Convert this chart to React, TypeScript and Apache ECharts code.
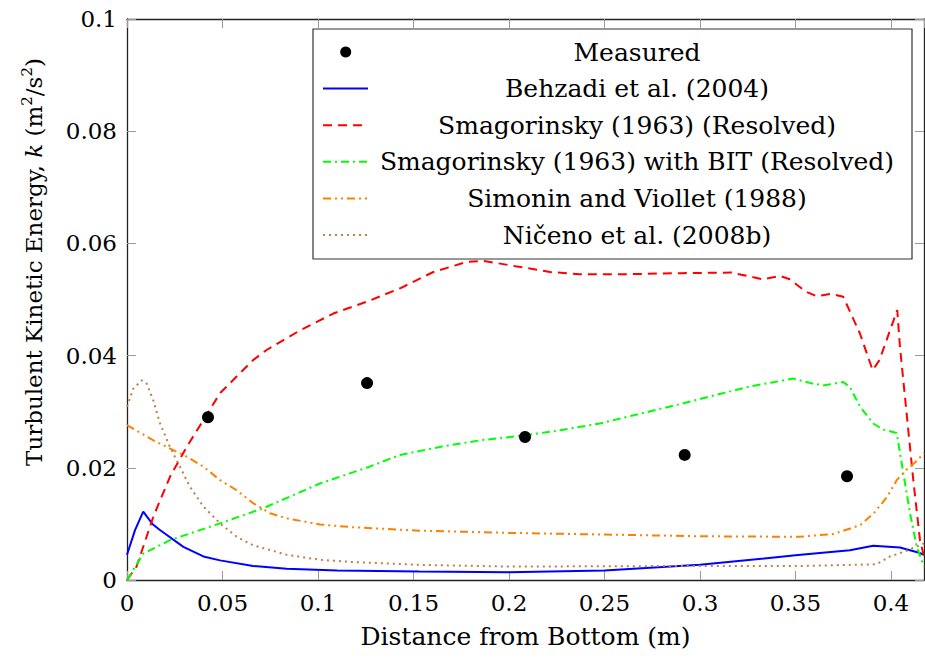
import React, { useEffect, useRef } from "react";
import * as echarts from "echarts";

const measured: number[][] = [
  [0.0424, 0.029], [0.1257, 0.0351], [0.2084, 0.0255], [0.292, 0.0223], [0.377, 0.0185],
];

const behzadi: number[][] = [
  [0, 0.0045], [0.0042, 0.0089], [0.0085, 0.0122], [0.0133, 0.01], [0.0169, 0.009],
  [0.0295, 0.0059], [0.04, 0.0042], [0.0487, 0.0035], [0.066, 0.0025], [0.0836, 0.002],
  [0.11, 0.0017], [0.153, 0.0015], [0.2, 0.0014], [0.25, 0.0017], [0.3, 0.0027],
  [0.35, 0.0044], [0.3785, 0.0053], [0.3907, 0.0061], [0.4047, 0.0058], [0.4143, 0.0049],
  [0.4173, 0.0045],
];

const smagorinsky: number[][] = [
  [0, 0], [0.005, 0.0024], [0.0138, 0.0113], [0.0225, 0.0184], [0.0312, 0.0237],
  [0.04, 0.0285], [0.0487, 0.0333], [0.066, 0.0392], [0.0731, 0.041], [0.0906, 0.0445],
  [0.108, 0.0475], [0.1255, 0.0496], [0.143, 0.052], [0.1604, 0.0549], [0.1779, 0.0567],
  [0.1865, 0.0569], [0.204, 0.0559], [0.2215, 0.0549], [0.237, 0.0545], [0.26, 0.0545],
  [0.29, 0.0547], [0.3165, 0.0548], [0.326, 0.0541], [0.333, 0.0536], [0.342, 0.0542],
  [0.347, 0.0536], [0.3555, 0.0514], [0.361, 0.0506], [0.3685, 0.051], [0.375, 0.0505],
  [0.3838, 0.0439], [0.3904, 0.0374], [0.394, 0.0392], [0.3995, 0.0445], [0.4033, 0.0481],
  [0.4047, 0.0416], [0.4082, 0.0297], [0.4117, 0.0178], [0.4152, 0.0071], [0.4173, 0.0042],
];

const smagorinskyBIT: number[][] = [
  [0, 0], [0.0085, 0.0047], [0.0225, 0.0071], [0.0487, 0.0101], [0.0714, 0.0128],
  [0.101, 0.0172], [0.127, 0.0202], [0.143, 0.0223], [0.165, 0.0238], [0.185, 0.0249],
  [0.2084, 0.0258], [0.227, 0.0267], [0.2476, 0.0279], [0.2913, 0.0315], [0.326, 0.0345],
  [0.349, 0.0359], [0.359, 0.035], [0.365, 0.0347], [0.375, 0.0353], [0.3785, 0.0344],
  [0.3838, 0.0309], [0.3907, 0.0279], [0.396, 0.0268], [0.403, 0.0262], [0.4065, 0.019],
  [0.41, 0.0119], [0.4135, 0.0059], [0.4173, 0.0024],
];

const simonin: number[][] = [
  [0, 0.0276], [0.0138, 0.0249], [0.0312, 0.022], [0.04, 0.0202], [0.0487, 0.0178],
  [0.0574, 0.016], [0.066, 0.0137], [0.0749, 0.0119], [0.0836, 0.011], [0.101, 0.0099],
  [0.1185, 0.0094], [0.136, 0.0091], [0.153, 0.0088], [0.2, 0.0084], [0.25, 0.0081],
  [0.3, 0.0078], [0.352, 0.0077], [0.37, 0.0082], [0.384, 0.0098], [0.391, 0.0119],
  [0.398, 0.0148], [0.403, 0.0178], [0.408, 0.0196], [0.413, 0.0211], [0.4173, 0.0226],
];

const niceno: number[][] = [
  [0, 0.0309], [0.0033, 0.0341], [0.0077, 0.0356], [0.0103, 0.035], [0.0138, 0.032],
  [0.0173, 0.0279], [0.0225, 0.0237], [0.0277, 0.0202], [0.033, 0.0166], [0.04, 0.0131],
  [0.0487, 0.0101], [0.0574, 0.0077], [0.066, 0.0062], [0.0836, 0.0045], [0.101, 0.0036],
  [0.1185, 0.0032], [0.153, 0.0027], [0.2, 0.0024], [0.3, 0.0025], [0.352, 0.0025],
  [0.3925, 0.0028], [0.3995, 0.0042], [0.4065, 0.005], [0.4173, 0.0065],
];

const legendNames = [
  "Measured",
  "Behzadi et al. (2004)",
  "Smagorinsky (1963) (Resolved)",
  "Smagorinsky (1963) with BIT (Resolved)",
  "Simonin and Viollet (1988)",
  "Ničeno et al. (2008b)",
];

const X_MAX = 0.4173;
const FONT = "DejaVu Serif";

export default function App() {
  const ref = useRef<HTMLDivElement>(null);
  useEffect(() => {
    document.body.style.margin = "0";
    const chart = echarts.init(ref.current!, null, { renderer: "svg" });

    const lineStyles = [
      null,
      { color: "#0000ff", type: "solid" as any },
      { color: "#ff0000", type: [9, 6] },
      { color: "#00ff00", type: [8, 4, 2, 4] },
      { color: "#ff8000", type: [8, 4, 2, 4, 2, 4] },
      { color: "#bf8040", type: [2, 4] },
    ];
    const datasets = [measured, behzadi, smagorinsky, smagorinskyBIT, simonin, niceno];

    const series: any[] = [];
    for (let i = 1; i < datasets.length; i++) {
      series.push({
        name: legendNames[i],
        type: "line",
        data: datasets[i],
        showSymbol: false,
        symbol: "none",
        lineStyle: { color: lineStyles[i]!.color, width: 2, type: lineStyles[i]!.type },
        z: 2,
      });
    }
    series.push({
      name: legendNames[0],
      type: "scatter",
      data: measured,
      symbol: "circle",
      symbolSize: 12,
      itemStyle: { color: "#000", opacity: 1 },
      z: 3,
    });

    const legendX = 313, legendY = 29, legendW = 599, legendH = 230;
    const rowY0 = 52, rowStep = 36.6;
    const graphics: any[] = [
      {
        type: "rect",
        shape: { x: legendX, y: legendY, width: legendW, height: legendH },
        style: { fill: "#fff", stroke: "#333", lineWidth: 1.2 },
        z: 100,
      },
    ];
    legendNames.forEach((name, i) => {
      const y = rowY0 + i * rowStep;
      if (i === 0) {
        graphics.push({
          type: "circle",
          shape: { cx: 345.7, cy: y, r: 5.5 },
          style: { fill: "#000" },
          z: 101,
        });
      } else {
        const ls = lineStyles[i]!;
        graphics.push({
          type: "line",
          shape: { x1: 323, y1: y, x2: 368, y2: y },
          style: {
            stroke: ls.color,
            lineWidth: 2,
            lineDash: Array.isArray(ls.type) ? ls.type : null,
          },
          z: 101,
        });
      }
      graphics.push({
        type: "text",
        x: 637,
        y: y,
        style: {
          text: name,
          font: `25px "${FONT}"`,
          fill: "#000",
          textAlign: "center",
          textVerticalAlign: "middle",
        },
        z: 101,
      });
    });
    graphics.push({
      type: "text",
      x: 34,
      y: 262,
      rotation: Math.PI / 2,
      style: {
        text: "{a|Turbulent Kinetic Energy, }{i|k}{a| (m}{s|2}{a|/s}{s|2}{a|)}",
        textAlign: "center",
        textVerticalAlign: "middle",
        fill: "#000",
        rich: {
          a: { fontFamily: FONT, fontSize: 23, lineHeight: 30, fill: "#000" },
          i: { fontFamily: FONT, fontSize: 23, fontStyle: "italic", lineHeight: 30, fill: "#000" },
          s: { fontFamily: FONT, fontSize: 15, lineHeight: 30, verticalAlign: "top", fill: "#000", padding: [0, 0, 10, 0] },
        },
      },
      z: 101,
    });

    const axisCommon = {
      type: "value" as const,
      axisLine: { show: true, onZero: false, lineStyle: { color: "#222", width: 1.3 } },
      axisTick: { show: true, inside: true, length: 9, lineStyle: { color: "#999", width: 1 } },
      splitLine: { show: false },
    };

    chart.setOption({
      animation: false,
      textStyle: { fontFamily: FONT },
      grid: { left: 127, right: 1, top: 19, bottom: 79, containLabel: false },
      xAxis: [
        {
          ...axisCommon,
          position: "bottom",
          min: 0,
          max: X_MAX,
          interval: 0.05,
          axisLabel: {
            show: true,
            color: "#000",
            fontFamily: FONT,
            fontSize: 23,
            margin: 11,
            showMaxLabel: false,
          },
          name: "Distance from Bottom (m)",
          nameLocation: "middle",
          nameGap: 44,
          nameTextStyle: { color: "#000", fontFamily: FONT, fontSize: 25 },
        },
        {
          ...axisCommon,
          position: "top",
          min: 0,
          max: X_MAX,
          interval: 0.05,
          axisLabel: { show: false },
        },
      ],
      yAxis: [
        {
          ...axisCommon,
          position: "left",
          min: 0,
          max: 0.1,
          interval: 0.02,
          axisLabel: { show: true, color: "#000", fontFamily: FONT, fontSize: 23, margin: 10 },
        },
        {
          ...axisCommon,
          position: "right",
          min: 0,
          max: 0.1,
          interval: 0.02,
          axisLabel: { show: false },
        },
      ],
      series,
      graphic: graphics,
    });
    return () => chart.dispose();
  }, []);
  return <div ref={ref} style={{ width: 925, height: 659 }} />;
}
